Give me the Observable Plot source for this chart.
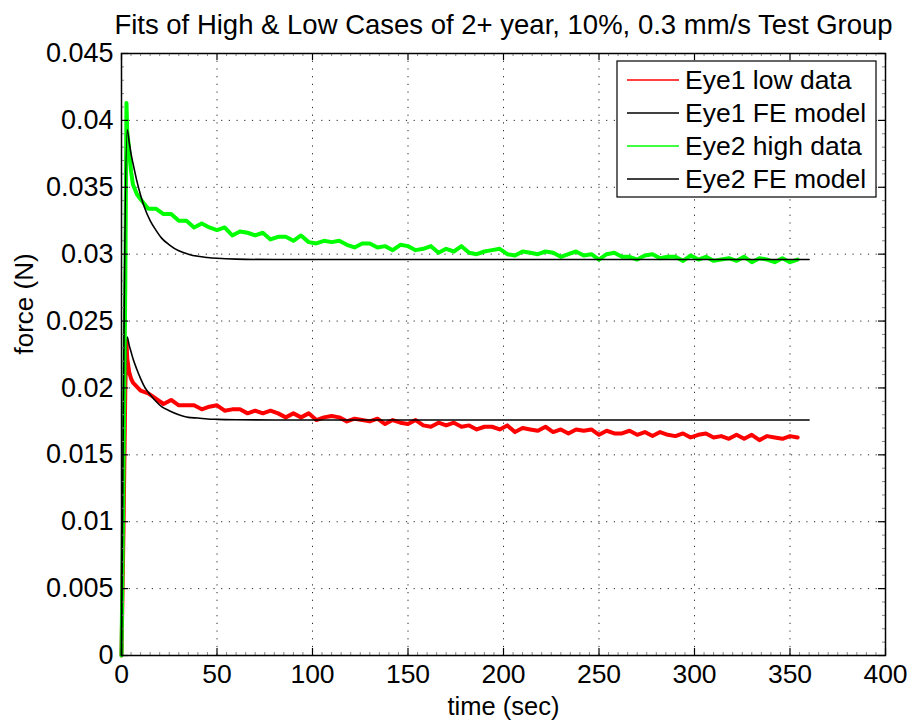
<!DOCTYPE html>
<html>
<head>
<meta charset="utf-8">
<script src="https://cdn.jsdelivr.net/npm/d3@7"></script>
<script src="https://cdn.jsdelivr.net/npm/@observablehq/plot@0.6"></script>
<style>
  html, body { margin: 0; padding: 0; background: #fff; }
  #chart svg { display: block; }
</style>
</head>
<body>
<div id="chart"></div>
<script>
const titleText = "Fits of High & Low Cases of 2+ year, 10%, 0.3 mm/s Test Group";
const xLabel = "time (sec)";
const yLabel = "force (N)";
const xTicks = [0, 50, 100, 150, 200, 250, 300, 350, 400];
const yTicks = [0, 0.005, 0.01, 0.015, 0.02, 0.025, 0.03, 0.035, 0.04, 0.045];
const yTickLabels = ["0", "0.005", "0.01", "0.015", "0.02", "0.025", "0.03", "0.035", "0.04", "0.045"];

const seriesNames = ["Eye1 low data", "Eye1 FE model", "Eye2 high data", "Eye2 FE model"];
const seriesColors = ["#ff0000", "#000000", "#00ff00", "#000000"];

// sample times of the measured data (sec)
const tData = [0, 1, 2, 2.6, 3, 4, 5, 6, 8,
  10,14,18,22,26,30,34,38,42,46,50,54,58,62,66,70,74,78,82,86,90,94,98,102,106,110,114,118,122,126,130,134,138,142,146,150,154,158,162,166,170,174,178,182,186,190,194,198,202,206,210,214,218,222,226,230,234,238,242,246,250,254,258,262,266,270,274,278,282,286,290,294,298,302,306,310,314,318,322,326,330,334,338,342,346,350,354];

// Eye1 low data (N)
const fLow = [0, 0.009, 0.0200, 0.0235, 0.0222, 0.0212, 0.0207, 0.0204, 0.0201,
  0.0198,0.0196,0.0192,0.0188,0.0191,0.0187,0.0187,0.0187,0.0184,0.0186,0.0187,0.0183,0.0184,0.0184,0.0181,0.0183,0.0181,0.0183,0.0181,0.0178,0.0181,0.0178,0.0181,0.0176,0.0178,0.0179,0.0178,0.0175,0.0177,0.0176,0.0175,0.0177,0.0173,0.0176,0.0174,0.0173,0.0176,0.0172,0.0171,0.0174,0.0172,0.0174,0.0171,0.0172,0.0169,0.0171,0.0171,0.0169,0.0172,0.0167,0.0170,0.0169,0.0168,0.0171,0.0167,0.0169,0.0166,0.0169,0.0168,0.0169,0.0165,0.0168,0.0166,0.0166,0.0168,0.0165,0.0167,0.0164,0.0167,0.0165,0.0164,0.0166,0.0163,0.0165,0.0166,0.0163,0.0164,0.0162,0.0165,0.0162,0.0165,0.0161,0.0164,0.0163,0.0162,0.0164,0.0163];

// Eye2 high data (N)
const fHigh = [0, 0.013, 0.028, 0.0413, 0.0392, 0.0378, 0.0362, 0.0352, 0.0345,
  0.0341,0.0334,0.0334,0.0330,0.0330,0.0325,0.0325,0.0320,0.0323,0.0320,0.0318,0.0320,0.0314,0.0317,0.0316,0.0314,0.0316,0.0311,0.0313,0.0313,0.0310,0.0314,0.0309,0.0308,0.0310,0.0309,0.0310,0.0307,0.0305,0.0308,0.0308,0.0305,0.0306,0.0303,0.0307,0.0306,0.0303,0.0304,0.0306,0.0301,0.0304,0.0302,0.0306,0.0301,0.0300,0.0302,0.0303,0.0304,0.0300,0.0299,0.0302,0.0301,0.0300,0.0302,0.0301,0.0298,0.0300,0.0302,0.0299,0.0300,0.0296,0.0300,0.0301,0.0298,0.0298,0.0296,0.0299,0.0300,0.0297,0.0298,0.0298,0.0295,0.0299,0.0296,0.0298,0.0295,0.0296,0.0297,0.0295,0.0298,0.0294,0.0297,0.0296,0.0294,0.0297,0.0294,0.0296];

// FE model curves
const tModel = [0, 3, 4, 5, 6, 8, 10, 12, 15, 18, 21, 25, 30, 35, 40, 45, 50, 60, 80, 360];
const fModel1 = [0, 0.0238, 0.0232, 0.0227, 0.0222, 0.0214, 0.0207, 0.0201, 0.0195, 0.0190, 0.0186, 0.0183, 0.0180, 0.0178, 0.01775, 0.01768, 0.01765, 0.01762, 0.0176, 0.0176];
const fModel2 = [0, 0.0393, 0.0384, 0.0375, 0.0368, 0.0355, 0.0344, 0.0335, 0.0325, 0.0318, 0.0312, 0.0307, 0.03025, 0.0300, 0.02984, 0.02975, 0.02969, 0.02963, 0.0296, 0.0296];

const low = tData.map((t, i) => ({t, f: fLow[i]}));
const high = tData.map((t, i) => ({t, f: fHigh[i]}));
const model1 = tModel.map((t, i) => ({t, f: fModel1[i]}));
const model2 = tModel.map((t, i) => ({t, f: fModel2[i]}));

const W = 912, H = 721, mL = 121, mR = 27, mT = 53, mB = 66;
const pw = W - mL - mR, ph = H - mT - mB;
const font = "'Liberation Sans', Arial, Helvetica, sans-serif";

const xMinor = d3.range(0, 401, 5).filter(v => v % 50 !== 0);
const yMinorVals = d3.range(0, 46, 1).filter(v => v % 5 !== 0).map(v => v / 1000);
const xGrid = xTicks.slice(1, -1);
const yGrid = yTicks.slice(1, -1);

const chart = Plot.plot({
  width: W, height: H,
  marginLeft: mL, marginRight: mR, marginTop: mT, marginBottom: mB,
  style: {fontFamily: font, background: "#fff", color: "#000"},
  x: {domain: [0, 400]},
  y: {domain: [0, 0.045]},
  marks: [
    Plot.ruleX(xGrid, {x: d => d, stroke: "#000", strokeWidth: 1, strokeDasharray: "1.2,6.5", strokeOpacity: 0.85}),
    Plot.ruleY(yGrid, {y: d => d, stroke: "#000", strokeWidth: 1, strokeDasharray: "1.2,6.5", strokeOpacity: 0.85}),
    Plot.line(low, {x: "t", y: "f", stroke: seriesColors[0], strokeWidth: 4, strokeLinejoin: "round"}),
    Plot.line(model1, {x: "t", y: "f", stroke: seriesColors[1], strokeWidth: 1.6, curve: "monotone-x"}),
    Plot.line(high, {x: "t", y: "f", stroke: seriesColors[2], strokeWidth: 4, strokeLinejoin: "round"}),
    Plot.line(model2, {x: "t", y: "f", stroke: seriesColors[3], strokeWidth: 1.6, curve: "monotone-x"}),
    // minor ticks
    Plot.tickX(xMinor, {x: d => d, insetTop: ph - 3, stroke: "#888", strokeWidth: 1}),
    Plot.tickX(xMinor, {x: d => d, insetBottom: ph - 3, stroke: "#888", strokeWidth: 1}),
    Plot.tickY(yMinorVals, {y: d => d, insetRight: pw - 3, stroke: "#888", strokeWidth: 1}),
    Plot.tickY(yMinorVals, {y: d => d, insetLeft: pw - 3, stroke: "#888", strokeWidth: 1}),
    // major ticks (inward)
    Plot.tickX(xTicks, {x: d => d, insetTop: ph - 7, stroke: "#000", strokeWidth: 1.2}),
    Plot.tickX(xTicks, {x: d => d, insetBottom: ph - 7, stroke: "#000", strokeWidth: 1.2}),
    Plot.tickY(yTicks, {y: d => d, insetRight: pw - 7, stroke: "#000", strokeWidth: 1.2}),
    Plot.tickY(yTicks, {y: d => d, insetLeft: pw - 7, stroke: "#000", strokeWidth: 1.2}),
    Plot.frame({stroke: "#000", strokeWidth: 1.5}),
    Plot.axisX({ticks: xTicks, tickSize: 0, tickPadding: 9, fontSize: 26.5, label: null, tickFormat: d => String(d)}),
    Plot.axisY({ticks: yTicks, tickSize: 0, tickPadding: 8, fontSize: 27, label: null, tickFormat: d => yTickLabels[yTicks.indexOf(d)]}),
    Plot.text([titleText], {frameAnchor: "top", dy: -39, fontSize: 27.5, fill: "#000"}),
    Plot.text([xLabel], {frameAnchor: "bottom", dy: 59, fontSize: 25.5, fill: "#000"}),
    Plot.text([yLabel], {frameAnchor: "left", dx: -97, rotate: -90, fontSize: 26, fill: "#000"})
  ]
});

document.getElementById("chart").appendChild(chart);

// Legend
const svg = d3.select(chart);
const lg = svg.append("g").attr("class", "legend").attr("font-family", font).attr("text-anchor", "start");
const boxX = 617, boxY = 61, boxW = 259, boxH = 136, rowH = 33;
lg.append("rect").attr("x", boxX).attr("y", boxY).attr("width", boxW).attr("height", boxH)
  .attr("fill", "#fff").attr("stroke", "#000").attr("stroke-width", 1.2);
seriesNames.forEach((name, i) => {
  const cy = boxY + 19 + i * rowH;
  lg.append("line").attr("x1", boxX + 10).attr("x2", boxX + 62).attr("y1", cy).attr("y2", cy)
    .attr("stroke", seriesColors[i]).attr("stroke-width", 1.5);
  lg.append("text").attr("x", boxX + 68).attr("y", cy).attr("dy", "0.35em")
    .attr("text-anchor", "start").attr("font-size", 26.5).attr("fill", "#000").text(name);
});
</script>
</body>
</html>
